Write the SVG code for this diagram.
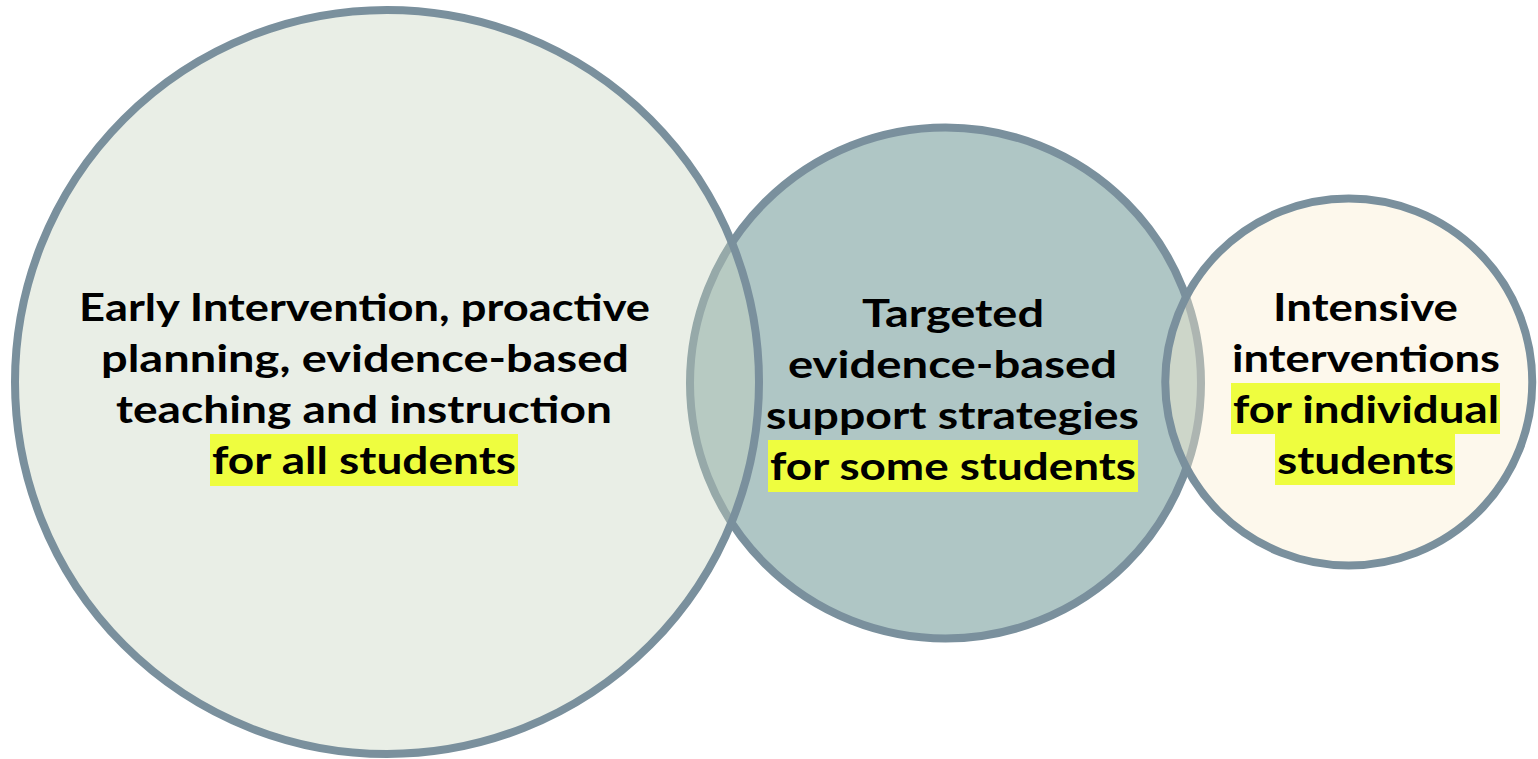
<svg xmlns="http://www.w3.org/2000/svg" width="1538" height="759" viewBox="0 0 1538 759">
  <style>
    .ring { stroke: #7a909d; stroke-width: 8; }
    .lbl { font-family: Lato, "Open Sans", "Liberation Sans", sans-serif; font-weight: 700; font-size: 38px; fill: #000; text-anchor: middle; }
    .hl { fill: #eefd3f; }
  </style>
  <rect width="1538" height="759" fill="#ffffff"/>
  <g id="node-targeted">
    <circle class="ring" cx="945.5" cy="383" r="255.5" fill="#afc6c5"/>
  </g>
  <g id="node-universal">
    <circle class="ring" cx="387" cy="382" r="372" fill="#c4d2bc" fill-opacity="0.375"/>
  </g>
  <g id="node-intensive">
    <circle class="ring" cx="1348.75" cy="382" r="183.5" fill="#faeed0" fill-opacity="0.4"/>
  </g>
  <g id="connectors"></g>
  <g id="label-universal">
    <rect class="hl" x="210" y="434" width="308" height="52"/>
    <text class="lbl" x="364.5" y="321" textLength="571" lengthAdjust="spacingAndGlyphs">Early Intervention, proactive</text>
    <text class="lbl" x="365" y="372" textLength="528" lengthAdjust="spacingAndGlyphs">planning, evidence-based</text>
    <text class="lbl" x="364" y="423" textLength="496" lengthAdjust="spacingAndGlyphs">teaching and instruction</text>
    <text class="lbl" x="364" y="474" textLength="304" lengthAdjust="spacingAndGlyphs">for all students</text>
  </g>
  <g id="label-targeted">
    <rect class="hl" x="768" y="440" width="370" height="52"/>
    <text class="lbl" x="953" y="327" textLength="182" lengthAdjust="spacingAndGlyphs">Targeted</text>
    <text class="lbl" x="952.5" y="378" textLength="329" lengthAdjust="spacingAndGlyphs">evidence-based</text>
    <text class="lbl" x="952.5" y="429" textLength="373" lengthAdjust="spacingAndGlyphs">support strategies</text>
    <text class="lbl" x="953" y="480" textLength="366" lengthAdjust="spacingAndGlyphs">for some students</text>
  </g>
  <g id="label-intensive">
    <rect class="hl" x="1231" y="383" width="269" height="51"/>
    <rect class="hl" x="1275" y="434" width="180" height="51"/>
    <text class="lbl" x="1365.5" y="321" textLength="185" lengthAdjust="spacingAndGlyphs">Intensive</text>
    <text class="lbl" x="1366" y="372" textLength="268" lengthAdjust="spacingAndGlyphs">interventions</text>
    <text class="lbl" x="1366" y="423" textLength="266" lengthAdjust="spacingAndGlyphs">for individual</text>
    <text class="lbl" x="1365.5" y="474" textLength="177" lengthAdjust="spacingAndGlyphs">students</text>
  </g>
</svg>
